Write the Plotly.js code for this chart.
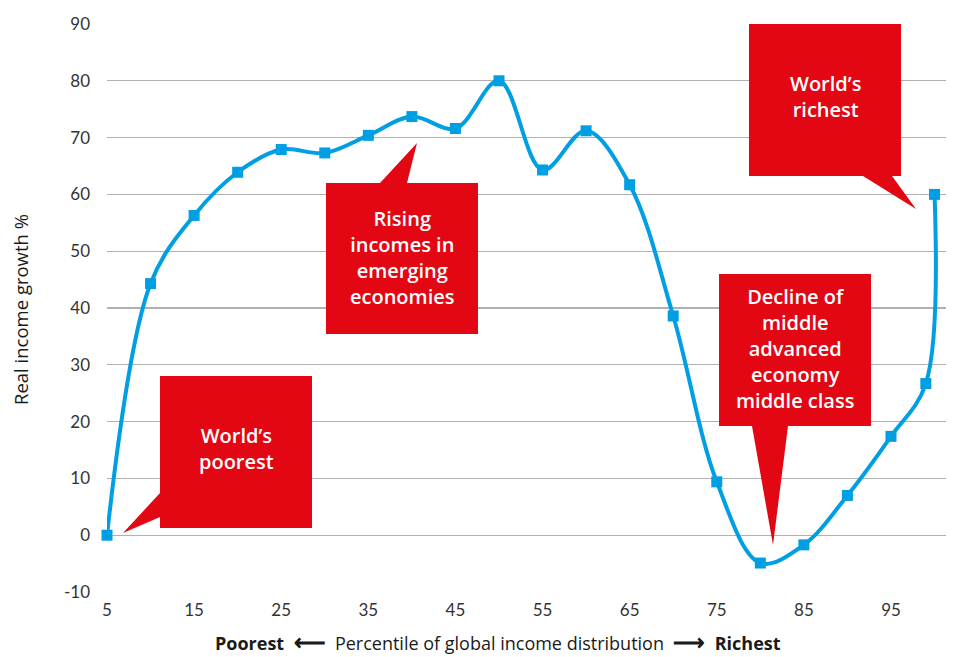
<!DOCTYPE html>
<html>
<head>
<meta charset="utf-8">
<script src="https://cdn.plot.ly/plotly-3.0.1.min.js"></script>
<style>html,body{margin:0;padding:0;background:#fff;}#chart{width:954px;height:657px;}</style>
</head>
<body>
<div id="chart"></div>
<script>
// Data
const percentiles = [5, 10, 15, 20, 25, 30, 35, 40, 45, 50, 55, 60, 65, 70, 75, 80, 85, 90, 95, 99, 100];
const growth = [0, 44.3, 56.3, 63.9, 67.9, 67.3, 70.4, 73.7, 71.6, 80, 64.3, 71.2, 61.7, 38.6, 9.4, -4.9, -1.7, 7.0, 17.4, 26.7, 60];
const xTicks = [5, 15, 25, 35, 45, 55, 65, 75, 85, 95];
const yTicks = [-10, 0, 10, 20, 30, 40, 50, 60, 70, 80, 90];
const callouts = [
  {text: "World’s<br>poorest"},
  {text: "Rising<br>incomes in<br>emerging<br>economies"},
  {text: "Decline of<br>middle<br>advanced<br>economy<br>middle class"},
  {text: "World’s<br>richest"}
];

// Layout geometry (pixel -> data helpers for callout decoration)
const W = 954, H = 657;
const M = {l: 107, r: 8, t: 24, b: 65};
const xMin = 5, pxPerX = 8.711;
const xMax = xMin + (W - M.l - M.r) / pxPerX;
const yMin = -10, yMax = 90;
const pxPerY = (H - M.t - M.b) / (yMax - yMin);
const X = p => xMin + (p - M.l) / pxPerX;
const Y = p => yMax - (p - M.t) / pxPerY;
const path = pts => 'M' + pts.map(p => X(p[0]).toFixed(3) + ',' + Y(p[1]).toFixed(3)).join(' L') + ' Z';

const red = '#E30613';
const shapesPx = [
  [[160,376],[312,376],[312,528],[160,528],[160,517],[123,533],[160,493]],
  [[326,183],[380,183],[417,143],[407,183],[478,183],[478,334],[326,334]],
  [[719,274],[871,274],[871,426],[788,426],[773,545],[752,426],[719,426]],
  [[749,24],[901,24],[901,176],[892,176],[916,209],[863,176],[749,176]]
];
const textCenters = [[236,448],[402,257],[795,348],[825,96]];

const shapes = shapesPx.map(pts => ({
  type: 'path', xref: 'x', yref: 'y', path: path(pts),
  fillcolor: red, line: {width: 0}, layer: 'between'
}));

const annotations = callouts.map((c, i) => ({
  xref: 'x', yref: 'y', x: X(textCenters[i][0]), y: Y(textCenters[i][1]),
  text: c.text, showarrow: false, xanchor: 'center', yanchor: 'middle',
  align: 'center',
  font: {family: '"Open Sans", sans-serif', size: 20, color: '#ffffff', weight: 600}
}));

annotations.push({
  xref: 'paper', yref: 'paper', x: (498 - M.l) / (W - M.l - M.r), y: -(641 - (H - M.b)) / (H - M.t - M.b),
  xanchor: 'center', yanchor: 'middle', showarrow: false,
  text: '<b>Poorest</b>  <b><span style="font-size:22px">⟵</span></b>  Percentile of global income distribution  <b><span style="font-size:22px">⟶</span></b>  <b>Richest</b>',
  font: {family: '"Open Sans", sans-serif', size: 18, color: '#1a1a1a'}
});
annotations.push({
  xref: 'paper', yref: 'paper', x: (20 - M.l) / (W - M.l - M.r), y: ((H - M.b) - 310) / (H - M.t - M.b),
  xanchor: 'center', yanchor: 'middle', showarrow: false, textangle: -90,
  text: 'Real income growth %',
  font: {family: '"Open Sans", sans-serif', size: 18.5, color: '#1a1a1a'}
});

const trace = {
  x: percentiles, y: growth, type: 'scatter', mode: 'lines+markers',
  line: {color: '#009FE3', width: 4, shape: 'spline', smoothing: 1},
  marker: {symbol: 'square', size: 11, color: '#009FE3'},
  hoverinfo: 'x+y', cliponaxis: false
};

const layout = {
  width: W, height: H,
  margin: M,
  paper_bgcolor: '#ffffff', plot_bgcolor: '#ffffff',
  showlegend: false,
  xaxis: {
    range: [xMin, xMax], tickvals: xTicks, ticktext: xTicks.map(String),
    showgrid: false, zeroline: false, showline: false, ticks: '',
    ticklabelstandoff: 6,
    tickfont: {family: 'Lato, sans-serif', size: 17, color: '#333333'}
  },
  yaxis: {
    range: [yMin, yMax], tickvals: yTicks, ticktext: yTicks.map(String),
    showgrid: true, gridcolor: '#b0b0b0', gridwidth: 1.3,
    zeroline: false, showline: false, ticks: '',
    ticklabelstandoff: 16,
    tickfont: {family: 'Lato, sans-serif', size: 17, color: '#333333'}
  },
  shapes: shapes,
  annotations: annotations
};

Plotly.newPlot('chart', [trace], layout, {displayModeBar: false, staticPlot: true});
</script>
</body>
</html>
